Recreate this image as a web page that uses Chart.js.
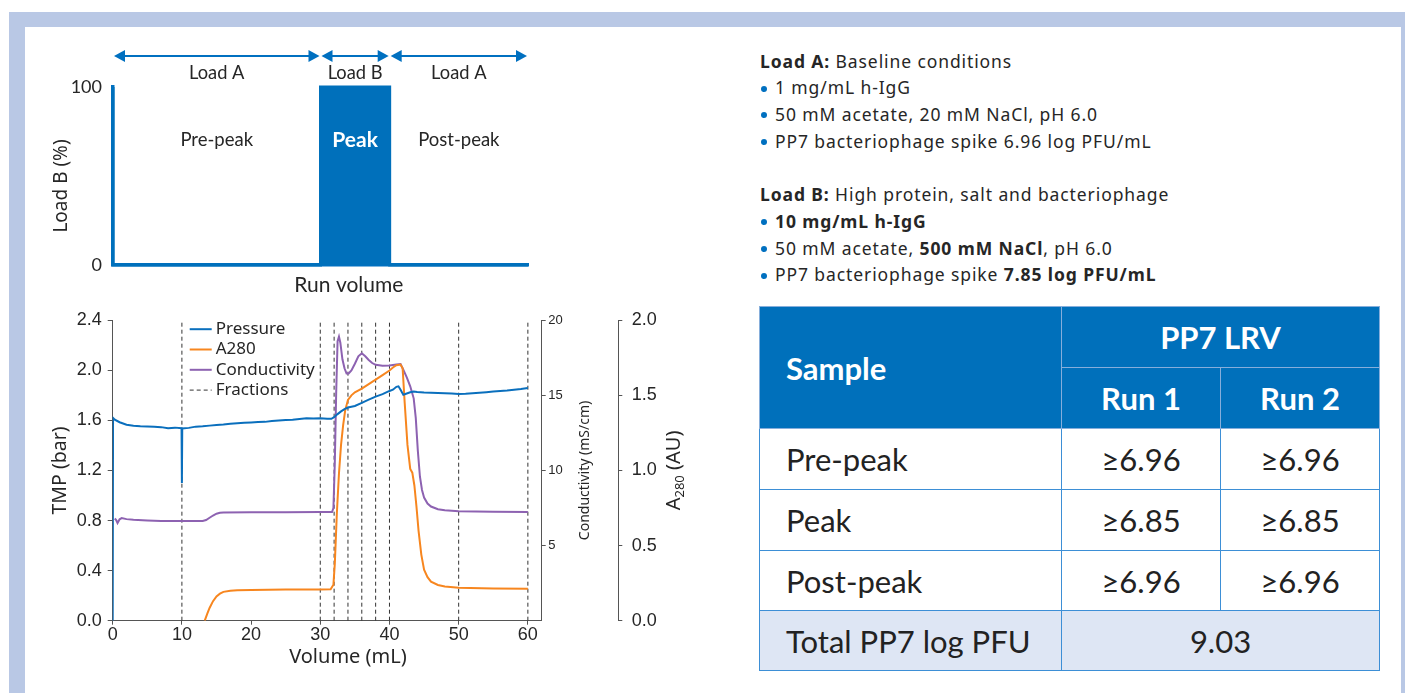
<!DOCTYPE html>
<html>
<head>
<meta charset="utf-8">
<script src="https://cdn.jsdelivr.net/npm/chart.js@4.4.1/dist/chart.umd.min.js"></script>
<style>
body{margin:0;width:1405px;height:693px;overflow:hidden;background:#fff;position:relative;font-family:'Noto Sans',sans-serif;color:#262626}
#frame{position:absolute;left:9px;top:12px;width:1500px;height:800px;background:#b9c8e5}
#panel{position:absolute;left:25px;top:27px;width:1376px;height:700px;background:#fff}
canvas{position:absolute}
#loadChart{left:40px;top:30px}
#runChart{left:40px;top:300px}
#notes{position:absolute;left:760px;top:47.6px;font-size:17.5px;letter-spacing:0.9px;line-height:26.7px;white-space:nowrap}
#notes .b{display:inline-block;width:6px;height:6px;border-radius:50%;background:#0070c0;margin:0 8px 0 1px;vertical-align:middle;position:relative;top:-1px}
#notes .gap{height:26.7px}
#lrv{position:absolute;left:759px;top:306px;width:620px;border-collapse:collapse;font-family:Lato,sans-serif;font-size:31px;color:#222;table-layout:fixed}
#lrv td,#lrv th{border:1px solid #3d8fd6;padding:0;text-align:center}
#lrv th{background:#0070bb;color:#fff;font-weight:700;border-color:#86aedb}
#lrv .l{text-align:left;padding-left:26px}
#lrv tr.tot td{background:#dee6f4}
</style>
</head>
<body>
<div id="frame"></div>
<div id="panel"></div>
<canvas id="loadChart" width="520" height="270"></canvas>
<canvas id="runChart" width="680" height="385"></canvas>
<div id="notes"></div>
<table id="lrv"></table>
<script>
// step profile of load B
var loadVol = [0, 0, 30, 30, 40, 40, 60];
var loadB = [100, 0, 0, 100, 100, 0, 0];
var phaseStart = [0, 30, 40];
var phaseEnd = [30, 40, 60];
var phaseLoad = ['Load A', 'Load B', 'Load A'];
var phaseName = ['Pre-peak', 'Peak', 'Post-peak'];

// run traces
var pressureVol = [0, 0.05, 0.3, 1, 2, 3, 4, 5, 6, 7, 8, 9, 9.95, 10, 10.05, 11, 12, 13, 14, 15, 16, 17, 18, 19, 20, 21, 22, 23, 24, 25, 26, 27, 28, 29, 30, 31, 31.6, 32, 32.5, 33, 33.5, 34, 35, 36, 37, 38, 39, 40, 40.5, 41, 41.3, 41.6, 42, 42.5, 43, 43.5, 44, 45, 46, 47, 48, 49, 50, 51, 52, 53, 54, 55, 56, 57, 58, 59, 60];
var pressureTmp = [0, 1.62, 1.606, 1.585, 1.565, 1.557, 1.553, 1.551, 1.549, 1.546, 1.538, 1.542, 1.537, 1.10, 1.535, 1.54, 1.55, 1.553, 1.558, 1.563, 1.567, 1.573, 1.576, 1.58, 1.583, 1.587, 1.588, 1.594, 1.598, 1.602, 1.605, 1.611, 1.616, 1.614, 1.617, 1.612, 1.612, 1.625, 1.65, 1.672, 1.69, 1.703, 1.715, 1.74, 1.765, 1.79, 1.81, 1.835, 1.845, 1.868, 1.872, 1.845, 1.805, 1.815, 1.825, 1.83, 1.826, 1.822, 1.82, 1.818, 1.817, 1.814, 1.811, 1.812, 1.816, 1.82, 1.825, 1.83, 1.835, 1.838, 1.845, 1.85, 1.858];

var a280Vol = [13.3, 13.7, 14, 14.5, 15, 15.5, 16, 17, 18, 20, 25, 30, 31.5, 31.9, 32.1, 32.4, 32.7, 33, 33.3, 33.6, 34, 34.5, 35, 36, 37, 38, 39, 40, 40.5, 41, 41.6, 41.9, 42.2, 42.6, 43, 43.3, 43.6, 43.9, 44.2, 44.6, 45, 45.5, 46, 47, 48, 50, 55, 60];
var a280Abs = [0, 0.05, 0.085, 0.13, 0.162, 0.18, 0.192, 0.2, 0.203, 0.205, 0.207, 0.208, 0.209, 0.24, 0.38, 0.72, 0.98, 1.17, 1.3, 1.4, 1.47, 1.5, 1.52, 1.545, 1.575, 1.605, 1.635, 1.665, 1.685, 1.7, 1.705, 1.68, 1.45, 1.17, 1.01, 0.985, 0.9, 0.76, 0.6, 0.44, 0.34, 0.29, 0.26, 0.238, 0.228, 0.22, 0.215, 0.212];

var condVol = [0.3, 0.5, 0.7, 1, 1.3, 2, 3, 5, 7, 10, 13, 13.5, 14, 14.5, 15, 15.5, 16, 20, 25, 30, 31.7, 31.9, 32.1, 32.3, 32.5, 32.7, 32.9, 33.2, 33.5, 33.8, 34.1, 34.5, 35, 35.5, 36, 36.5, 37, 37.5, 38, 39, 40, 41, 41.6, 42, 42.5, 43, 43.5, 43.8, 44.1, 44.4, 44.7, 45, 45.5, 46, 47, 48, 50, 55, 60];
var condVal = [6.8, 6.7, 6.5, 6.75, 6.83, 6.76, 6.72, 6.67, 6.64, 6.64, 6.64, 6.7, 6.85, 7.0, 7.12, 7.18, 7.2, 7.21, 7.22, 7.23, 7.23, 7.5, 10.5, 15.2, 18.6, 18.9, 18.5, 17.4, 16.8, 16.45, 16.45, 16.65, 17.1, 17.6, 17.8, 17.6, 17.35, 17.15, 17.03, 16.97, 16.98, 17.05, 17.08, 16.7, 16.2, 15.6, 14.8, 13.5, 11.3, 9.6, 8.7, 8.2, 7.8, 7.6, 7.42, 7.35, 7.28, 7.25, 7.23];

var fractionVol = [10, 30, 32, 34, 36, 38, 40, 50, 60];

// table
var tableRows = ['Pre-peak', 'Peak', 'Post-peak'];
var run1 = ['≥6.96', '≥6.85', '≥6.96'];
var run2 = ['≥6.96', '≥6.85', '≥6.96'];
var totalLabel = 'Total PP7 log PFU';
var totalValue = '9.03';

var notesA = ['1 mg/mL h-IgG', '50 mM acetate, 20 mM NaCl, pH 6.0', 'PP7 bacteriophage spike 6.96 log PFU/mL'];
var notesB = ['<b>10 mg/mL h-IgG</b>', '50 mM acetate, <b>500 mM NaCl</b>, pH 6.0', 'PP7 bacteriophage spike <b>7.85 log PFU/mL</b>'];

var BLUE = '#0070c0';
var INK = '#262626';

function pts(xs, ys) {
	var out = [];
	for (var i = 0; i < xs.length; i++) out.push({x: xs[i], y: ys[i]});
	return out;
}

function text(ctx, str, x, y, font, color, align, rot) {
	ctx.save();
	ctx.translate(x, y);
	if (rot) ctx.rotate(rot);
	ctx.font = font;
	ctx.fillStyle = color;
	ctx.textAlign = align || 'center';
	ctx.textBaseline = 'middle';
	ctx.fillText(str, 0, 0);
	ctx.restore();
}

// ---- right side text + table
var h = '<div><b>Load A:</b> Baseline conditions</div>';
notesA.forEach(function(t){ h += '<div><span class="b"></span>' + t + '</div>'; });
h += '<div class="gap"></div><div><b>Load B:</b> High protein, salt and bacteriophage</div>';
notesB.forEach(function(t){ h += '<div><span class="b"></span>' + t + '</div>'; });
document.getElementById('notes').innerHTML = h;

var t = '<colgroup><col style="width:302px"><col style="width:159px"><col style="width:159px"></colgroup>';
t += '<tr style="height:61px"><th class="l" rowspan="2">Sample</th><th colspan="2">PP7 LRV</th></tr>';
t += '<tr style="height:61px"><th>Run 1</th><th>Run 2</th></tr>';
for (var i = 0; i < tableRows.length; i++) {
	t += '<tr style="height:' + (i == 2 ? 60 : 61) + 'px"><td class="l">' + tableRows[i] + '</td><td>' + run1[i] + '</td><td>' + run2[i] + '</td></tr>';
}
t += '<tr class="tot" style="height:60px"><td class="l">' + totalLabel + '</td><td colspan="2">' + totalValue + '</td></tr>';
document.getElementById('lrv').innerHTML = t;

// ---- top: load B profile
var phasePlugin = {
	id: 'phases',
	afterDraw: function(chart) {
		var ctx = chart.ctx, a = chart.chartArea, xs = chart.scales.x, ys = chart.scales.y;
		for (var i = 0; i < phaseStart.length; i++) {
			var x1 = xs.getPixelForValue(phaseStart[i]) + 1, x2 = xs.getPixelForValue(phaseEnd[i]) - 1;
			var y = a.top - 31;
			ctx.save();
			ctx.strokeStyle = BLUE; ctx.fillStyle = BLUE; ctx.lineWidth = 2;
			ctx.beginPath(); ctx.moveTo(x1 + 6, y); ctx.lineTo(x2 - 6, y); ctx.stroke();
			ctx.beginPath(); ctx.moveTo(x1, y); ctx.lineTo(x1 + 11, y - 6); ctx.lineTo(x1 + 11, y + 6); ctx.closePath(); ctx.fill();
			ctx.beginPath(); ctx.moveTo(x2, y); ctx.lineTo(x2 - 11, y - 6); ctx.lineTo(x2 - 11, y + 6); ctx.closePath(); ctx.fill();
			ctx.restore();
			var mid = (x1 + x2) / 2;
			text(ctx, phaseLoad[i], mid, a.top - 14, '18.3px Lato', INK);
			var peak = i == 1;
			text(ctx, phaseName[i], mid, ys.getPixelForValue(70), (peak ? 'bold 21px' : '18.5px') + ' Lato', peak ? '#fff' : INK);
		}
		text(ctx, 'Run volume', xs.getPixelForValue(34.1), a.bottom + 20, '21px Lato', INK);
		text(ctx, 'Load B (%)', 22, (a.top + a.bottom) / 2 + 10, '19px "Noto Sans"', INK, 'center', -Math.PI / 2);
	}
};

new Chart(document.getElementById('loadChart'), {
	type: 'line',
	data: {
		datasets: [{
			label: 'Load B',
			data: pts(loadVol, loadB),
			borderColor: '#0070bb',
			backgroundColor: '#0070bb',
			borderWidth: 3,
			fill: 'origin',
			pointRadius: 0,
			clip: false
		}]
	},
	options: {
		responsive: false,
		animation: false,
		layout: {padding: {top: 57, right: 32, left: 0, bottom: 0}},
		plugins: {legend: {display: false}, tooltip: {enabled: false}},
		scales: {
			x: {
				type: 'linear', min: 0, max: 60,
				ticks: {display: false},
				grid: {display: false, drawTicks: false},
				border: {color: BLUE, width: 3.5},
				afterFit: function(s){ s.height = 35; }
			},
			y: {
				min: 0, max: 100,
				ticks: {stepSize: 100, padding: 11, color: INK, font: {family: 'Lato', size: 18}},
				grid: {display: false, drawTicks: false},
				border: {color: BLUE, width: 3.5},
				afterFit: function(s){ s.width = 73; }
			}
		}
	},
	plugins: [phasePlugin]
});

// ---- bottom: run traces
var fractionPts = [];
fractionVol.forEach(function(v){
	fractionPts.push({x: v, y: 0}, {x: v, y: 2.4}, {x: v, y: null});
});

var tracePlugin = {
	id: 'traceExtras',
	afterDraw: function(chart) {
		var ctx = chart.ctx, a = chart.chartArea;
		chart.data.datasets.forEach(function(ds, i){
			var y = a.top + 9 + i * 20.3;
			ctx.save();
			ctx.beginPath();
			ctx.setLineDash(ds.borderDash || []);
			ctx.strokeStyle = ds.borderColor;
			ctx.lineWidth = ds.borderWidth;
			ctx.moveTo(a.left + 77, y); ctx.lineTo(a.left + 99, y); ctx.stroke();
			ctx.restore();
			text(ctx, ds.label, a.left + 103, y, '17px "Noto Sans"', INK, 'left');
		});
		var mid = (a.top + a.bottom) / 2;
		text(ctx, 'Volume (mL)', chart.scales.x.getPixelForValue(34), a.bottom + 37, '20px "Noto Sans"', INK);
		text(ctx, 'TMP (bar)', 20, mid, '19.5px "Noto Sans"', INK, 'center', -Math.PI / 2);
		text(ctx, 'Conductivity (mS/cm)', chart.scales.yC.left + 43.5, mid, '14px "Noto Sans"', INK, 'center', -Math.PI / 2);
		// A280 title with subscript
		var parts = [['A', 20, 0], ['280', 13, 4], [' (AU)', 20, 0]];
		ctx.save();
		ctx.translate(chart.scales.yA.left + 62, mid);
		ctx.rotate(-Math.PI / 2);
		ctx.fillStyle = INK;
		ctx.textBaseline = 'alphabetic';
		ctx.textAlign = 'left';
		var w = 0;
		parts.forEach(function(p){ ctx.font = p[1] + 'px "Noto Sans"'; w += ctx.measureText(p[0]).width; });
		var x = -w / 2;
		parts.forEach(function(p){
			ctx.font = p[1] + 'px "Noto Sans"';
			ctx.fillText(p[0], x, p[2]);
			x += ctx.measureText(p[0]).width;
		});
		ctx.restore();
	}
};

var axisGrid = {drawOnChartArea: false, tickLength: 4, color: '#555'};
var axisBorder = {color: '#555', width: 1};

new Chart(document.getElementById('runChart'), {
	type: 'line',
	data: {
		datasets: [
			{label: 'Pressure', data: pts(pressureVol, pressureTmp), yAxisID: 'y', borderColor: '#0a6fbd', borderWidth: 2, pointRadius: 0, order: 1},
			{label: 'A280', data: pts(a280Vol, a280Abs), yAxisID: 'yA', borderColor: '#f7861f', borderWidth: 2, pointRadius: 0, order: 2},
			{label: 'Conductivity', data: pts(condVol, condVal), yAxisID: 'yC', borderColor: '#8d62b1', borderWidth: 2, pointRadius: 0, order: 3},
			{label: 'Fractions', data: fractionPts, yAxisID: 'y', borderColor: '#333', borderWidth: 1, borderDash: [4, 3], pointRadius: 0, spanGaps: false, order: 4}
		]
	},
	options: {
		responsive: false,
		animation: false,
		layout: {padding: {top: 19.3, left: 0, right: 0, bottom: 0}},
		plugins: {legend: {display: false}, tooltip: {enabled: false}},
		scales: {
			x: {
				type: 'linear', min: 0, max: 62,
				ticks: {stepSize: 10, includeBounds: false, padding: 0, color: INK, font: {size: 18}},
				grid: axisGrid, border: axisBorder,
				afterFit: function(s){ s.height = 64.3; }
			},
			y: {
				position: 'left', min: 0, max: 2.4,
				ticks: {stepSize: 0.4, padding: 6, color: INK, font: {size: 18}, callback: function(v){ return v.toFixed(1); }},
				grid: {drawOnChartArea: false, tickLength: 5, color: '#555'}, border: axisBorder,
				afterFit: function(s){ s.width = 72.7; }
			},
			yC: {
				position: 'right', min: 0, max: 20,
				ticks: {stepSize: 5, padding: 2.6, color: INK, font: {size: 13}, callback: function(v){ return v === 0 ? null : v; }},
				grid: axisGrid, border: axisBorder,
				afterFit: function(s){ s.width = 76.6; }
			},
			yA: {
				position: 'right', min: 0, max: 2,
				ticks: {stepSize: 0.5, padding: 9.4, color: INK, font: {size: 18}, callback: function(v){ return v.toFixed(1); }},
				grid: axisGrid, border: axisBorder,
				afterFit: function(s){ s.width = 101.7; }
			}
		}
	},
	plugins: [tracePlugin]
});
</script>
</body>
</html>
